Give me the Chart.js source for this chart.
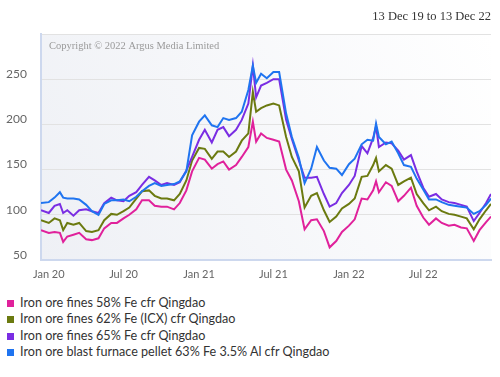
<!DOCTYPE html>
<html>
<head>
<meta charset="utf-8">
<script src="https://cdn.jsdelivr.net/npm/chart.js@4"></script>
<style>
  body { margin: 0; background: #fff; width: 500px; height: 377px; overflow: hidden; }
  #wrap { position: absolute; left: 0; top: 0; width: 500px; height: 290px; }
  #legend { position: absolute; left: 7px; top: 295px; font-family: Lato, sans-serif; font-size: 12.6px; color: #333; }
  .row { height: 16.3px; line-height: 16px; white-space: nowrap; }
  .sw { display: inline-block; width: 7px; height: 7px; margin-right: 6px; vertical-align: 0px; }
</style>
</head>
<body>
<div id="wrap"><canvas id="chart" width="500" height="290"></canvas></div>
<div id="legend"></div>
<script>
const startDate = '2019-12-13';
const rangeText = '13 Dec 19 to 13 Dec 22';
const copyrightText = 'Copyright \u00a9 2022 Argus Media Limited';

const dates = [
  '2019-12-13','2020-01-01','2020-01-15','2020-01-28','2020-02-05','2020-02-15','2020-03-01','2020-03-15','2020-04-01','2020-04-15',
  '2020-05-01','2020-05-15','2020-06-01','2020-06-15','2020-07-01','2020-07-15','2020-08-01','2020-08-15','2020-09-01','2020-09-15',
  '2020-10-01','2020-10-15','2020-11-01','2020-11-15','2020-12-01','2020-12-15','2021-01-01','2021-01-15','2021-02-01','2021-02-15',
  '2021-03-01','2021-03-15','2021-04-01','2021-04-15','2021-05-01','2021-05-12','2021-05-20','2021-06-01','2021-06-15','2021-07-01',
  '2021-07-15','2021-08-01','2021-08-15','2021-09-01','2021-09-15','2021-10-01','2021-10-15','2021-11-01','2021-11-15','2021-12-01',
  '2021-12-15','2022-01-01','2022-01-15','2022-02-01','2022-02-15','2022-03-01','2022-03-08','2022-03-15','2022-04-01','2022-04-15',
  '2022-05-01','2022-05-15','2022-06-01','2022-06-15','2022-07-01','2022-07-15','2022-08-01','2022-08-15','2022-09-01','2022-09-15',
  '2022-10-01','2022-10-15','2022-11-01','2022-11-15','2022-12-01','2022-12-13'
];

// Iron ore fines 58% Fe cfr Qingdao
const fines58 = [83,80,81,80,70,76,78,80,73,72, 74,85,91,91,96,100,106,116,116,110, 109,109,106,113,127,148,163,161,151,156,
  159,150,155,164,175,203,181,190,185,183, 181,150,138,115,84,94,95,82,64,71, 81,88,95,118,117,127,137,125,136,132,
  115,121,130,110,97,89,96,91,88,89, 86,85,71,83,92,98];
// Iron ore fines 62% Fe (ICX) cfr Qingdao
const fines62 = [94,91,96,94,83,91,89,91,82,81, 83,94,101,100,104,108,118,126,127,121, 118,118,116,123,138,160,174,173,162,170,
  170,164,170,182,190,236,214,218,221,223, 221,186,164,148,108,121,124,105,92,98, 107,112,118,142,143,155,163,148,155,151,
  133,137,141,123,113,105,109,104,101,100, 98,96,84,95,105,112];
// Iron ore fines 65% Fe cfr Qingdao
const fines65 = [105,102,110,112,102,105,99,105,106,104, 102,113,119,116,115,121,125,133,142,138, 133,135,133,136,149,164,183,194,180,194,
  197,187,194,205,223,265,230,243,246,250, 250,205,184,160,141,141,142,123,109,113, 124,133,143,176,168,185,198,175,180,179,
  171,161,166,148,130,120,123,117,114,113, 111,109,93,102,113,123];
// Iron ore blast furnace pellet 63% Fe 3.5% Al cfr Qingdao
const pellet = [113,114,119,125,119,118,118,117,111,104, 100,112,116,116,117,115,120,126,132,135, 132,133,134,137,148,188,203,210,199,197,
  207,205,207,214,238,265,246,256,251,258, 258,212,186,163,135,151,175,160,152,151, 144,156,162,178,183,182,201,186,178,181,
  168,155,153,140,128,117,117,114,111,110, 109,108,101,104,111,118];

const seriesNames = [
  'Iron ore fines 58% Fe cfr Qingdao',
  'Iron ore fines 62% Fe (ICX) cfr Qingdao',
  'Iron ore fines 65% Fe cfr Qingdao',
  'Iron ore blast furnace pellet 63% Fe 3.5% Al cfr Qingdao'
];
const seriesData = [fines58, fines62, fines65, pellet];
const seriesColors = ['#e0219b', '#6b7a10', '#7a2de3', '#1f74f0'];

const tickDates = ['2020-01-01','2020-07-01','2021-01-01','2021-07-01','2022-01-01','2022-07-01'];
const tickLabels = ['Jan 20','Jul 20','Jan 21','Jul 21','Jan 22','Jul 22'];
const endDate = '2022-12-13';

const dayOf = d => Math.round((Date.parse(d) - Date.parse(startDate)) / 86400000);
const tickDays = tickDates.map(dayOf);

const plotDeco = {
  id: 'plotDeco',
  beforeDraw(chart) {
    const {ctx, chartArea: a} = chart;
    const g = ctx.createLinearGradient(a.left, a.bottom, a.right, a.top);
    g.addColorStop(0, '#eef0f5');
    g.addColorStop(1, '#ffffff');
    ctx.save();
    ctx.fillStyle = g;
    ctx.fillRect(a.left, a.top, a.right - a.left, a.bottom - a.top);
    ctx.restore();
  },
  beforeDatasetsDraw(chart) {
    const {ctx, chartArea: a} = chart;
    ctx.save();
    ctx.font = '10.5px "Liberation Serif", serif';
    ctx.fillStyle = '#9a9a9a';
    ctx.textBaseline = 'middle';
    ctx.fillText(copyrightText, a.left + 8, a.top + 12);
    ctx.restore();
  },
  afterDraw(chart) {
    const {ctx} = chart;
    ctx.save();
    ctx.font = '12.5px "Liberation Serif", serif';
    ctx.fillStyle = '#333';
    ctx.textAlign = 'right';
    ctx.textBaseline = 'middle';
    ctx.fillText(rangeText, 491, 17);
    ctx.restore();
  }
};

new Chart(document.getElementById('chart'), {
  type: 'line',
  data: {
    datasets: seriesNames.map((name, i) => ({
      label: name,
      data: dates.map((d, j) => ({ x: dayOf(d), y: seriesData[i][j] })),
      borderColor: seriesColors[i],
      backgroundColor: seriesColors[i],
      borderWidth: 2,
      pointRadius: 0,
      tension: 0,
      fill: false
    })).reverse()
  },
  options: {
    responsive: false,
    animation: false,
    layout: { padding: { top: 34, right: 9, left: 0, bottom: 0 } },
    plugins: { legend: { display: false }, tooltip: { enabled: false } },
    scales: {
      x: {
        type: 'linear',
        min: 0,
        max: dayOf(endDate),
        afterBuildTicks: s => { s.ticks = tickDays.map(v => ({ value: v })); },
        afterFit: s => { s.height = 30; },
        grid: { color: 'rgba(0,0,0,0)', drawTicks: false },
        border: { color: '#cdd8ee', width: 2 },
        ticks: {
          autoSkip: false,
          maxRotation: 0,
          padding: 8,
          color: '#666',
          font: { family: 'Lato', size: 11 },
          callback: v => tickLabels[tickDays.indexOf(v)]
        }
      },
      y: {
        min: 50,
        max: 300,
        afterFit: s => { s.width = 41; },
        grid: { color: '#e2e2e2', drawTicks: false },
        border: { color: '#cdd8ee', width: 2 },
        ticks: {
          stepSize: 50,
          padding: 14,
          labelOffset: -5,
          color: '#666',
          font: { family: 'Lato', size: 12 },
          callback: v => (v === 300 ? '' : v)
        }
      }
    }
  },
  plugins: [plotDeco]
});

const legend = document.getElementById('legend');
seriesNames.forEach((name, i) => {
  const row = document.createElement('div');
  row.className = 'row';
  const sw = document.createElement('span');
  sw.className = 'sw';
  sw.style.background = seriesColors[i];
  row.appendChild(sw);
  row.appendChild(document.createTextNode(name));
  legend.appendChild(row);
});
</script>
</body>
</html>
